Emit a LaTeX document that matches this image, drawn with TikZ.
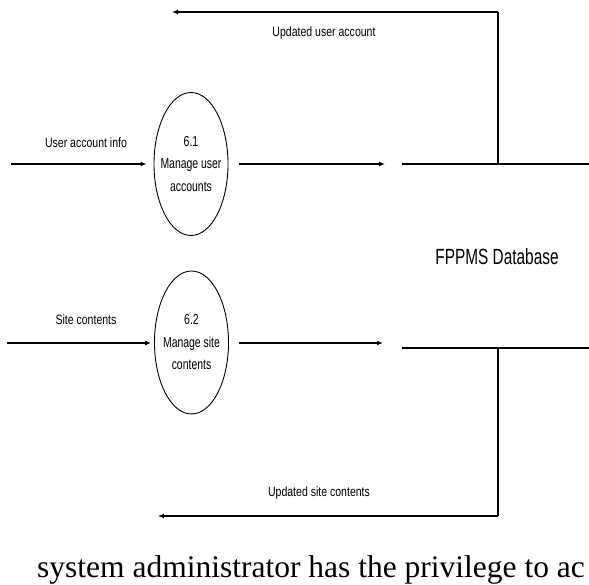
\documentclass[tikz,border=0pt]{standalone}
\usepackage{fontspec}
\setmainfont{Liberation Serif}
\newfontfamily\dfdfont[FakeStretch=0.78]{Liberation Sans}
\newfontfamily\procfont[FakeStretch=0.72]{Liberation Sans}
\newfontfamily\storefont[FakeStretch=0.7]{Liberation Sans}
\usetikzlibrary{shapes.geometric,arrows.meta,positioning}

\begin{document}
\begin{tikzpicture}[x=1pt,y=-1pt,
    process/.style={draw,ellipse,line width=0.9pt,minimum width=74pt,minimum height=143pt,
      inner xsep=-6pt,inner ysep=0pt,align=center,font=\procfont\fontsize{14.5}{22.5}\selectfont},
    flow/.style={-{Latex[length=6pt,width=5pt]},line width=1.2pt},
    storeline/.style={line width=1.1pt},
    flowlabel/.style={font=\dfdfont\fontsize{13.5}{15}\selectfont}]
    \useasboundingbox (0,0) rectangle (589,585);

    % Processes
    \node[process] (p61) at (191,164) {6.1\\Manage user\\accounts};
    \node[process] (p62) at (191.5,342.5) {6.2\\Manage site\\contents};

    % Data store
    \coordinate (dbtopL) at (402,164);
    \coordinate (dbtopR) at (589,164);
    \coordinate (dbbotL) at (402,348);
    \coordinate (dbbotR) at (589,348);
    \draw[storeline] (dbtopL) -- (dbtopR);
    \draw[storeline] (dbbotL) -- (dbbotR);
    \node[font=\storefont\fontsize{22}{24}\selectfont] (db) at (497,257) {FPPMS Database};

    % Flows in
    \coordinate (in61) at (11,164);
    \coordinate (in62) at (7,343);
    \draw[flow,shorten >=7pt] (in61) -- (p61.west |- in61);
    \draw[flow,shorten >=3pt] (in62) -- (p62.west |- in62);
    \node[flowlabel] (l61) at (86,143) {User account info};
    \node[flowlabel] (l62) at (86,320) {Site contents};

    % Flows to store
    \coordinate (st61) at (385,164);
    \coordinate (st62) at (383,343);
    \draw[flow] ([xshift=11pt]p61.east) -- (st61);
    \draw[flow] ([xshift=10pt]p62.east |- st62) -- (st62);

    % Flows back from store
    \coordinate (up61) at (498,12);
    \coordinate (end61) at (172,12);
    \coordinate (dn62) at (498,516);
    \coordinate (end62) at (158,516);
    \draw[storeline] (498,164) -- (up61);
    \draw[flow] (up61) -- (end61);
    \draw[storeline] (498,348) -- (dn62);
    \draw[flow] (dn62) -- (end62);
    \node[flowlabel] (lup) at (324,33) {Updated user account};
    \node[flowlabel] (ldn) at (319,493) {Updated site contents};

    % Caption line, as far as the page shows it
    \node[anchor=base west,inner sep=0pt,font=\fontsize{31.5}{36}\selectfont] (cap) at (37,577)
      {system administrator has the privilege to ac};
\end{tikzpicture}
\end{document}
